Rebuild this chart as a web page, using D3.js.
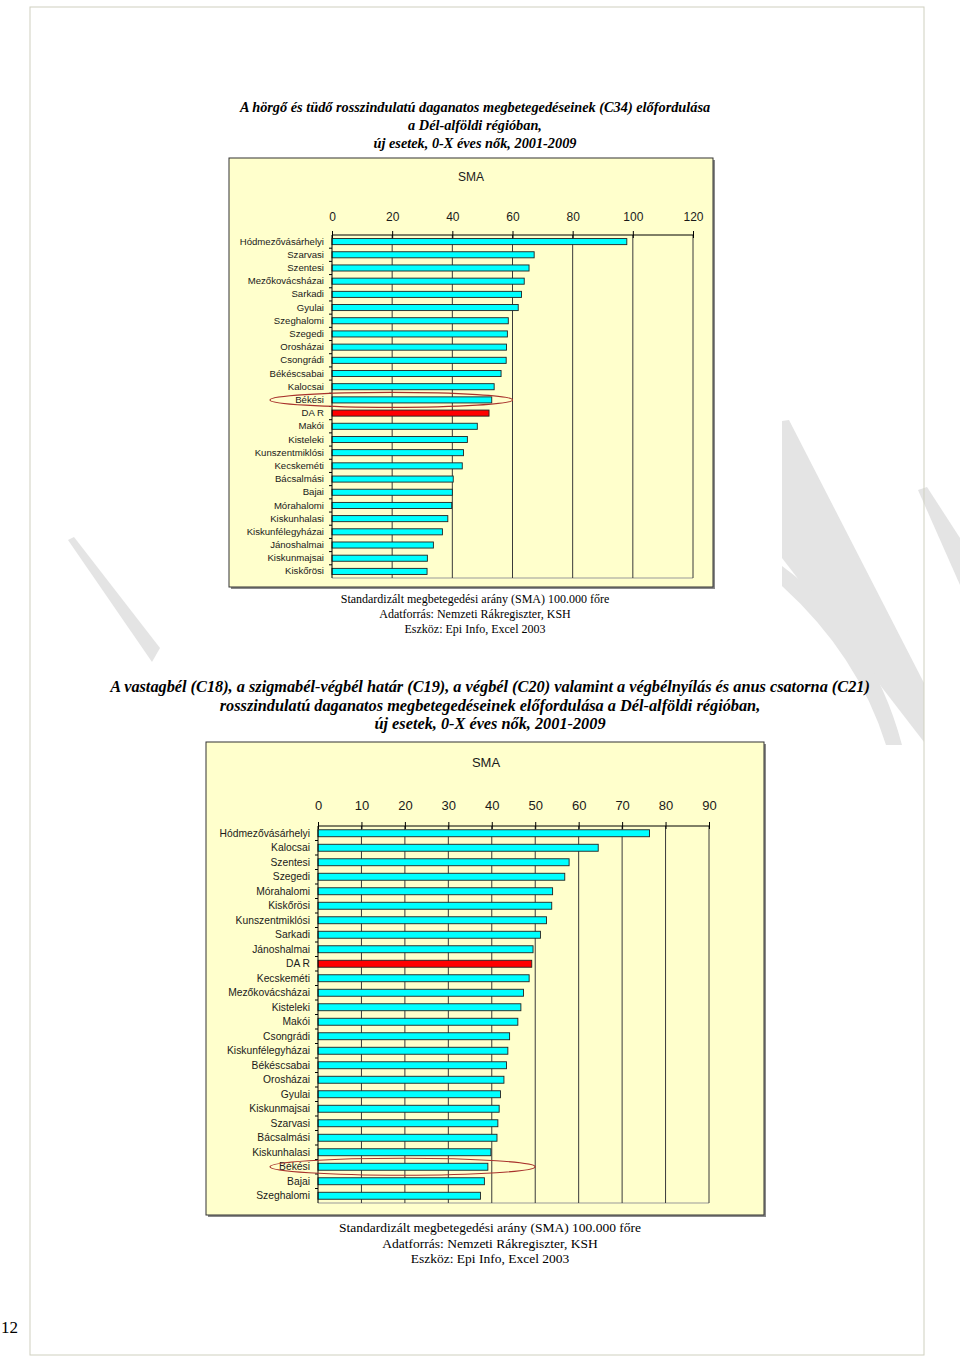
<!DOCTYPE html>
<html>
<head>
<meta charset="utf-8">
<title>SMA - Dél-alföldi régió</title>
<script src="https://d3js.org/d3.v7.min.js"></script>
<style>
body { margin: 0; background: #fff; }
svg { display: block; }
</style>
</head>
<body>
<script>

// C34 - hörgő és tüdő, nők
var c34Districts = ["Hódmezővásárhelyi", "Szarvasi", "Szentesi", "Mezőkovácsházai", "Sarkadi", "Gyulai",
  "Szeghalomi", "Szegedi", "Orosházai", "Csongrádi", "Békéscsabai", "Kalocsai", "Békési", "DAR", "Makói",
  "Kisteleki", "Kunszentmiklósi", "Kecskeméti", "Bácsalmási", "Bajai", "Mórahalomi", "Kiskunhalasi",
  "Kiskunfélegyházai", "Jánoshalmai", "Kiskunmajsai", "Kiskőrösi"];
var c34Values = [98.0, 67.2, 65.5, 63.9, 63.0, 61.9, 58.6, 58.3, 58.0, 57.9, 56.2, 53.9, 53.1, 52.2, 48.3,
  45.0, 43.7, 43.3, 40.3, 40.0, 39.8, 38.5, 36.7, 33.7, 31.7, 31.6];
var c34Ticks = [0, 20, 40, 60, 80, 100, 120];

// C18-C21 - vastagbél, végbél, nők
var c18Districts = ["Hódmezővásárhelyi", "Kalocsai", "Szentesi", "Szegedi", "Mórahalomi", "Kiskőrösi",
  "Kunszentmiklósi", "Sarkadi", "Jánoshalmai", "DAR", "Kecskeméti", "Mezőkovácsházai", "Kisteleki", "Makói",
  "Csongrádi", "Kiskunfélegyházai", "Békéscsabai", "Orosházai", "Gyulai", "Kiskunmajsai", "Szarvasi",
  "Bácsalmási", "Kiskunhalasi", "Békési", "Bajai", "Szeghalomi"];
var c18Values = [76.3, 64.5, 57.8, 56.8, 54.0, 53.8, 52.6, 51.2, 49.5, 49.2, 48.6, 47.3, 46.7, 46.0,
  44.1, 43.7, 43.4, 42.8, 42.0, 41.7, 41.4, 41.2, 39.8, 39.1, 38.3, 37.4];
var c18Ticks = [0, 10, 20, 30, 40, 50, 60, 70, 80, 90];

var title1 = ["A hörgő és tüdő rosszindulatú daganatos megbetegedéseinek (C34) előfordulása",
  "a Dél-alföldi régióban,",
  "új esetek, 0-X éves nők, 2001-2009"];
var title2 = ["A vastagbél (C18), a szigmabél-végbél határ (C19), a végbél (C20) valamint a végbélnyílás és anus csatorna (C21)",
  "rosszindulatú daganatos megbetegedéseinek előfordulása a Dél-alföldi régióban,",
  "új esetek, 0-X éves nők, 2001-2009"];
var footer = ["Standardizált megbetegedési arány (SMA) 100.000 főre",
  "Adatforrás: Nemzeti Rákregiszter, KSH",
  "Eszköz: Epi Info, Excel 2003"];


var svg = d3.select("body").append("svg").attr("width", 960).attr("height", 1361);

// watermark in the background
var wm = svg.append("g").attr("fill", "#e4e4e4");
wm.append("path").attr("d", "M68,540 L74,537 L160,648 L152,662 Z");
wm.append("path").attr("d", "M782,421 L789,420 L924,683 L924,742 L782,558 Z");
wm.append("path").attr("d", "M782,566 Q872,632 902,745 L886,745 Q858,655 782,586 Z");
wm.append("path").attr("d", "M918,490 L927,487 L960,538 L960,585 Z");

// page frame
svg.append("rect").attr("x", 30).attr("y", 7).attr("width", 894).attr("height", 1348)
  .attr("fill", "none").attr("stroke", "#cfd0bf").attr("stroke-width", 1);

svg.append("text").attr("x", 1).attr("y", 1333)
  .style("font-family", "Liberation Serif").style("font-size", "17px").text("12");


function textBlock(lines, cx, y0, step, size, bold) {
  svg.append("g").selectAll("text").data(lines).enter().append("text")
    .attr("x", cx).attr("y", function (d, i) { return y0 + i * step; })
    .attr("text-anchor", "middle")
    .style("font-family", "Liberation Serif")
    .style("font-size", size + "px")
    .style("font-weight", bold ? "bold" : "normal")
    .style("font-style", bold ? "italic" : "normal")
    .text(function (d) { return d; });
}


function drawChart(c) {
  var g = svg.append("g");

  // panel with a little shadow on right/bottom
  g.append("path")
    .attr("d", "M" + (c.panel.x + c.panel.w + 1) + "," + (c.panel.y + 2) + " V" + (c.panel.y + c.panel.h + 1) +
      " H" + (c.panel.x + 2))
    .attr("fill", "none").attr("stroke", "#8a8a8a").attr("stroke-width", 2);
  g.append("rect")
    .attr("x", c.panel.x).attr("y", c.panel.y).attr("width", c.panel.w).attr("height", c.panel.h)
    .attr("fill", "#ffffcc").attr("stroke", "#333").attr("stroke-width", 1);

  var x = d3.scaleLinear().domain([0, c.ticks[c.ticks.length - 1]]).range([c.left, c.right]);
  var y = d3.scaleBand().domain(c.names).range([c.top, c.bottom]);
  var bh = y.bandwidth() * c.barFrac;

  // plot bottom edge
  g.append("line").attr("x1", c.left).attr("x2", c.right).attr("y1", c.bottom).attr("y2", c.bottom)
    .attr("stroke", "#999");

  // gridlines
  g.selectAll(".grid").data(c.ticks.slice(1)).enter().append("line")
    .attr("x1", function (d) { return x(d); }).attr("x2", function (d) { return x(d); })
    .attr("y1", c.top).attr("y2", c.bottom)
    .attr("stroke", "#3a3a3a").attr("stroke-width", 1);

  // top value axis
  var ax = g.append("g").attr("transform", "translate(0," + c.top + ")")
    .call(d3.axisTop(x).tickValues(c.ticks).tickSize(4).tickPadding(8).tickFormat(d3.format("d")));
  ax.select(".domain").attr("stroke", "#000").attr("d", "M" + c.left + ",0H" + c.right);
  ax.selectAll(".tick line").attr("y1", 3).attr("stroke", "#000");
  ax.selectAll(".tick text")
    .attr("y", c.tickY - c.top)
    .style("font-family", "Liberation Sans").style("font-size", c.tickSize + "px").attr("fill", "#1a1a1a");

  // SMA title
  g.append("text").attr("x", c.smaX).attr("y", c.smaY)
    .attr("text-anchor", "middle")
    .style("font-family", "Liberation Sans").style("font-size", c.tickSize + "px").attr("fill", "#1a1a1a")
    .text("SMA");

  // bars
  g.selectAll(".bar").data(c.names).enter().append("rect")
    .attr("x", x(0))
    .attr("y", function (d) { return y(d) + (y.bandwidth() - bh) / 2; })
    .attr("width", function (d, i) { return x(c.values[i]) - x(0); })
    .attr("height", bh)
    .attr("fill", function (d) { return d === "DAR" ? "#ff0000" : "#00ffff"; })
    .attr("stroke", "#222").attr("stroke-width", 0.9);

  // category axis on the left
  var ay = g.append("g").attr("transform", "translate(" + c.left + ",0)")
    .call(d3.axisLeft(y).tickSize(0).tickPadding(8));
  ay.select(".domain").attr("stroke", "#000").attr("d", "M0," + c.top + "V" + c.bottom);
  ay.selectAll(".tick text")
    .style("font-family", "Liberation Sans").style("font-size", c.labelSize + "px").attr("fill", "#1a1a1a")
    .text(function (d) { return d === "DAR" ? "DA R" : d; });
  g.selectAll(".ctick").data(c.names.slice(1)).enter().append("line")
    .attr("x1", c.left - 3).attr("x2", c.left)
    .attr("y1", function (d) { return y(d); }).attr("y2", function (d) { return y(d); })
    .attr("stroke", "#000");

  // highlight of Békési
  var ex0 = c.left - c.ellLeft, ex1 = x(c.ellRight);
  g.append("ellipse")
    .attr("cx", (ex0 + ex1) / 2).attr("cy", y("Békési") + y.bandwidth() / 2)
    .attr("rx", (ex1 - ex0) / 2).attr("ry", c.ellRy)
    .attr("fill", "none").attr("stroke", "#a8322c").attr("stroke-width", 1.2);
}


textBlock(title1, 475, 112, 18, 14.3, true);
drawChart({
  names: c34Districts, values: c34Values, ticks: c34Ticks,
  panel: { x: 229, y: 158, w: 484, h: 429 },
  left: 332, right: 693, top: 235, bottom: 578,
  tickY: 221, tickSize: 12, labelSize: 9.6, smaX: 471, smaY: 181,
  barFrac: 0.46, ellLeft: 62, ellRight: 60, ellRy: 7.5
});
textBlock(footer, 475, 603, 15, 12, false);

textBlock(title2, 490, 692, 18.5, 16.3, true);
drawChart({
  names: c18Districts, values: c18Values, ticks: c18Ticks,
  panel: { x: 206, y: 742, w: 558, h: 473 },
  left: 318, right: 709, top: 826, bottom: 1203,
  tickY: 810, tickSize: 13, labelSize: 10.3, smaX: 486, smaY: 767,
  barFrac: 0.48, ellLeft: 48, ellRight: 50, ellRy: 8.5
});
textBlock(footer, 490, 1232, 15.5, 13.5, false);

</script>
</body>
</html>
